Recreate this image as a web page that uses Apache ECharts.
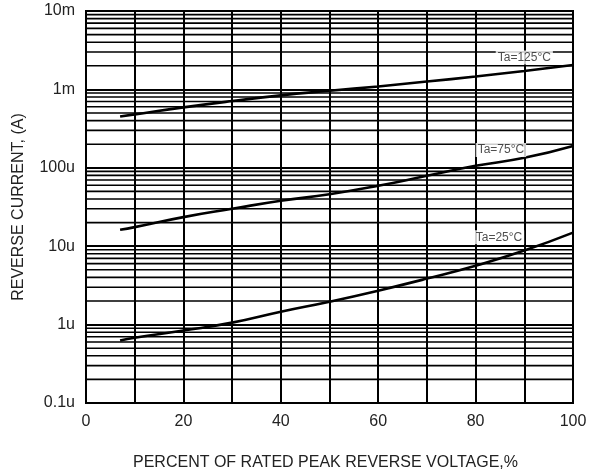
<!DOCTYPE html>
<html>
<head>
<meta charset="utf-8">
<script src="https://cdn.jsdelivr.net/npm/echarts@6/dist/echarts.min.js"></script>
<style>
html,body{margin:0;padding:0;background:#fff;}
#chart{width:592px;height:476px;}
</style>
</head>
<body>
<div id="chart"></div>
<script>
// Data (x = percent of rated peak reverse voltage, y = reverse current in A)
const xValues = [7, 10, 20, 30, 40, 50, 60, 70, 80, 90, 100];
const ta125 = [0.45e-3, 0.48e-3, 0.59e-3, 0.71e-3, 0.84e-3, 0.96e-3, 1.09e-3, 1.26e-3, 1.46e-3, 1.72e-3, 2.05e-3];
const ta75  = [16.2e-6, 17.5e-6, 23.5e-6, 30e-6, 38e-6, 46e-6, 59e-6, 79e-6, 106e-6, 134e-6, 190e-6];
const ta25  = [0.625e-6, 0.68e-6, 0.84e-6, 1.06e-6, 1.46e-6, 1.96e-6, 2.71e-6, 3.86e-6, 5.64e-6, 8.8e-6, 14.9e-6];
const seriesNames = ['Ta=125°C', 'Ta=75°C', 'Ta=25°C'];
const labelPoints = [[90, 2.56e-3], [85.2, 169e-6], [84.8, 13e-6]];
const yTickLabels = {'-7': '0.1u', '-6': '1u', '-5': '10u', '-4': '100u', '-3': '1m', '-2': '10m'};
const decades = [1e-7, 1e-6, 1e-5, 1e-4, 1e-3];
const minorMultipliers = [2, 3, 4, 5, 6, 7, 8, 9];

// minor log grid lines drawn as broken line segments through the axes
const minorGridData = [];
decades.forEach(d => minorMultipliers.forEach(m => {
  minorGridData.push([0, d * m], [100, d * m], [100, '-']);
}));

function toPairs(ys) { return xValues.map((x, i) => [x, ys[i]]); }

const FONT = 'Liberation Sans, Arial, sans-serif';
const lineStyle = {color: '#000', width: 2.6};
const chart = echarts.init(document.getElementById('chart'));
chart.setOption({
  animation: false,
  backgroundColor: '#fff',
  grid: {left: 86, right: 19, top: 11, bottom: 72, show: true, borderColor: '#000', borderWidth: 2},
  xAxis: {
    type: 'value', min: 0, max: 100, interval: 10,
    axisLine: {show: false}, axisTick: {show: false},
    splitLine: {show: true, lineStyle: {color: '#000', width: 2}},
    axisLabel: {color: '#222', fontSize: 16, fontFamily: FONT, margin: 11,
      formatter: v => (v % 20 === 0 ? String(v) : '')},
    name: 'PERCENT OF RATED PEAK REVERSE VOLTAGE,%',
    nameLocation: 'middle', nameGap: 52,
    nameTextStyle: {color: '#222', fontSize: 16, fontFamily: FONT, padding: [0, 8, 0, 0]}
  },
  yAxis: {
    type: 'log', logBase: 10, min: 1e-7, max: 1e-2,
    axisLine: {show: false}, axisTick: {show: false},
    splitLine: {show: true, lineStyle: {color: '#000', width: 2}},
    axisLabel: {color: '#222', fontSize: 16, fontFamily: FONT, margin: 11,
      formatter: v => yTickLabels[String(Math.round(Math.log10(v)))] || ''},
    name: 'REVERSE CURRENT, (A)',
    nameLocation: 'middle', nameGap: 59, nameRotate: 90,
    nameTextStyle: {color: '#222', fontSize: 16, fontFamily: FONT}
  },
  series: [
    {
      type: 'line', data: minorGridData, silent: true, showSymbol: false, connectNulls: false,
      lineStyle: {color: '#000', width: 1.6}, z: 1
    },
    {type: 'line', name: seriesNames[0], data: toPairs(ta125), smooth: true, showSymbol: false, lineStyle, z: 5},
    {type: 'line', name: seriesNames[1], data: toPairs(ta75), smooth: true, showSymbol: false, lineStyle, z: 5},
    {type: 'line', name: seriesNames[2], data: toPairs(ta25), smooth: true, showSymbol: false, lineStyle, z: 5},
    {
      type: 'scatter', symbolSize: 0, z: 10, silent: true,
      data: labelPoints.map((p, i) => ({value: p, name: seriesNames[i]})),
      label: {show: true, position: 'inside', formatter: p => p.name,
        color: '#222', fontSize: 12, fontFamily: FONT,
        backgroundColor: '#fff', padding: [1, 2]}
    }
  ]
});
</script>
</body>
</html>
